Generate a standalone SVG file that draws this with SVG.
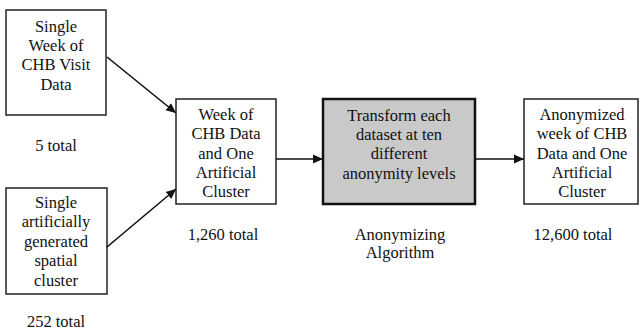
<svg xmlns="http://www.w3.org/2000/svg" width="640" height="331" viewBox="0 0 640 331">
<style>
.box{fill:#fff;stroke:#222;stroke-width:1.5}
.gray{fill:#c9c9c9;stroke:#111;stroke-width:2.5}
text{font-family:'Liberation Serif','Tinos','Times New Roman','DejaVu Serif','Noto Serif',serif;font-size:16.5px;fill:#111;text-anchor:middle}
.conn{stroke:#111;stroke-width:1.6;fill:none;marker-end:url(#ah)}
</style>
<defs>
<marker id="ah" viewBox="0 0 10 10" refX="10" refY="5" markerWidth="10" markerHeight="10" markerUnits="userSpaceOnUse" orient="auto">
<path d="M0,0.5 L10,5 L0,9.5 z" fill="#111"/>
</marker>
</defs>
<g id="n1">
<rect class="box" x="6" y="10" width="100" height="105"/>
<text x="56" y="32">Single</text>
<text x="56" y="51">Week of</text>
<text x="56" y="70">CHB Visit</text>
<text x="56" y="90">Data</text>
<text x="56" y="151">5 total</text>
</g>
<g id="n2">
<rect class="box" x="6" y="188" width="101" height="106"/>
<text x="56" y="208">Single</text>
<text x="56" y="227">artificially</text>
<text x="56" y="247">generated</text>
<text x="56" y="266">spatial</text>
<text x="56" y="286">cluster</text>
<text x="56" y="327">252 total</text>
</g>
<g id="n3">
<rect class="box" x="176" y="99" width="100" height="105"/>
<text x="226" y="120">Week of</text>
<text x="226" y="139">CHB Data</text>
<text x="226" y="159">and One</text>
<text x="226" y="178">Artificial</text>
<text x="226" y="197">Cluster</text>
<text x="223" y="240">1,260 total</text>
</g>
<g id="n4">
<rect class="gray" x="323" y="99" width="152" height="105"/>
<text x="399" y="121">Transform each</text>
<text x="399" y="140">dataset at ten</text>
<text x="399" y="159">different</text>
<text x="399" y="179">anonymity levels</text>
<text x="400" y="240">Anonymizing</text>
<text x="400" y="258">Algorithm</text>
</g>
<g id="n5">
<rect class="box" x="524" y="99" width="114" height="105"/>
<text x="582" y="120">Anonymized</text>
<text x="582" y="139">week of CHB</text>
<text x="582" y="159">Data and One</text>
<text x="582" y="178">Artificial</text>
<text x="582" y="197">Cluster</text>
<text x="573" y="240">12,600 total</text>
</g>
<g id="connectors">
<line class="conn" x1="107" y1="57" x2="176" y2="113"/>
<line class="conn" x1="107" y1="247" x2="176" y2="189"/>
<line class="conn" x1="276" y1="159" x2="323" y2="159"/>
<line class="conn" x1="475" y1="159" x2="524" y2="159"/>
</g>
</svg>
